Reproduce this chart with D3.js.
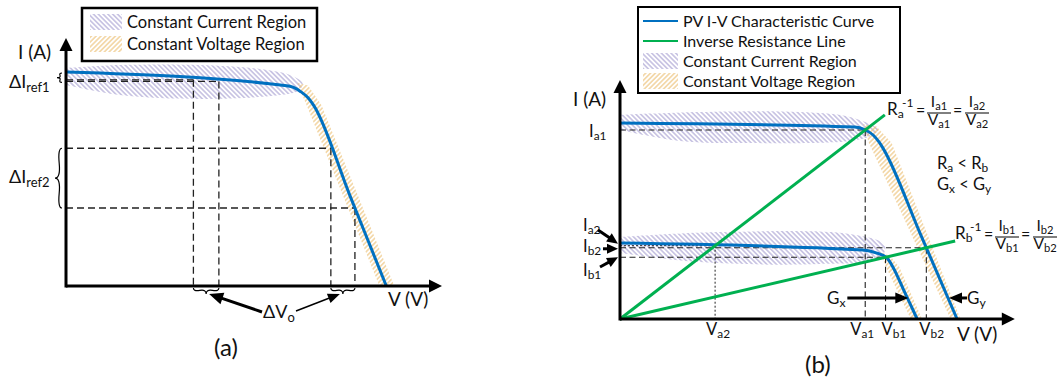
<!DOCTYPE html>
<html>
<head>
<meta charset="utf-8">
<script src="https://cdn.jsdelivr.net/npm/d3@7"></script>
<style>
body { margin: 0; background: #fff; }
text { font-family: Lato, "Liberation Sans", sans-serif; fill: #111; }
</style>
</head>
<body>
<svg id="chart"></svg>
<script>
// ---- panel (a): I-V curve, values in % of axis length ----
var curveAV = [0, 60, 62.5, 64.5, 66.5, 68, 78, 88];
var curveAI = [87, 81.5, 80.7, 79, 76.5, 73.5, 36.75, 0];
var ccMarkV = [35, 42];          // constant current region references
var cvMarkI = [56, 31.7];        // constant voltage region references
var ccBandAV = [0, 14.8, 36.8, 53.3, 61.5, 65, 64, 56, 36.8, 14.8, 0];
var ccBandAI = [88.6, 89.8, 89.8, 88.2, 85.8, 82.5, 79.5, 77.2, 76, 77.6, 81.7];
var cvBandAV = [63.5, 66.5, 70.2, 90.2, 86.1, 66.1];
var cvBandAI = [82.5, 81.5, 73.5, 0, 0, 73.5];

// ---- panel (b): two irradiance curves + two resistance lines ----
var upperV = [0, 61.8, 64.5, 66.6, 68.2, 69.2, 79, 88.7];
var upperI = [82, 80.3, 79.1, 77, 74, 71.5, 35.75, 0];
var lowerV = [0, 63.9, 67.6, 70.3, 71.8, 75, 78.2];
var lowerI = [31.8, 28.9, 27.6, 25.5, 21.8, 10.9, 0];
var greenEndV = [69.7, 88.2];    // Ra line, Rb line
var greenEndI = [85.4, 32.6];
var gArrowI = 8.8;
var ccBandUpV = [0, 21, 47.4, 60.5, 68, 65.8, 60.5, 34.2, 15.8, 0];
var ccBandUpI = [85.4, 86.6, 86.6, 84.5, 79, 76.5, 74.5, 73.6, 74.5, 79.1];
var ccBandLoV = [0, 26.3, 60.5, 69.7, 68.4, 52.6, 21, 0];
var ccBandLoI = [34.3, 36.4, 35.6, 31, 25.5, 23, 23.8, 27.6];
var cvBandUpV = [64, 67.5, 71.5, 89.6, 87, 65.5];
var cvBandUpI = [81.5, 80.5, 73.6, 0, 0, 73.6];
var cvBandLoV = [68.5, 71, 73.5, 79.5, 76.5, 70];
var cvBandLoI = [28, 26.5, 21.8, 0, 0, 21.8];

var legendA = ["Constant Current Region", "Constant Voltage Region"];
var legendB = ["PV I-V Characteristic Curve", "Inverse Resistance Line", "Constant Current Region", "Constant Voltage Region"];

var BLUE = "#0070c0", GREEN = "#00b050";

var svg = d3.select("#chart").attr("width", 1057).attr("height", 382);
svg.append("rect").attr("width", 1057).attr("height", 382).attr("fill", "#fff");
var defs = svg.append("defs");

function hatch(id, color, angle) {
    var p = defs.append("pattern").attr("id", id)
        .attr("patternUnits", "userSpaceOnUse")
        .attr("width", 3.4).attr("height", 3.4)
        .attr("patternTransform", "rotate(" + angle + ")");
    p.append("line").attr("x1", 1.7).attr("y1", 0).attr("x2", 1.7).attr("y2", 3.4)
        .attr("stroke", color).attr("stroke-width", 1.1);
}
hatch("ccHatch", "#aba4d4", -45);
hatch("cvHatch", "#ecc27a", 45);

function pts(vs, is) { return vs.map(function (v, k) { return [v, is[k]]; }); }

function iAtV(vs, is, v) {
    for (var k = 0; k < vs.length - 1; k++) {
        if (v >= vs[k] && v <= vs[k + 1]) {
            var t = (v - vs[k]) / (vs[k + 1] - vs[k]);
            return is[k] + t * (is[k + 1] - is[k]);
        }
    }
}
function vAtI(vs, is, i) {
    for (var k = vs.length - 2; k >= 0; k--) {
        if (i <= is[k] && i >= is[k + 1]) {
            var t = (is[k] - i) / (is[k] - is[k + 1]);
            return vs[k] + t * (vs[k + 1] - vs[k]);
        }
    }
}
function crossLine(vs, is, slope) {
    for (var k = 0; k < vs.length - 1; k++) {
        var f0 = is[k] - slope * vs[k], f1 = is[k + 1] - slope * vs[k + 1];
        if (f0 >= 0 && f1 <= 0) {
            var t = f0 / (f0 - f1);
            var v = vs[k] + t * (vs[k + 1] - vs[k]);
            return [v, slope * v];
        }
    }
}

function makeBrace(x1, y1, x2, y2, w, q) {
    var dx = x1 - x2, dy = y1 - y2;
    var len = Math.sqrt(dx * dx + dy * dy);
    dx = dx / len; dy = dy / len;
    var qx1 = x1 + q * w * dy, qy1 = y1 - q * w * dx;
    var qx2 = (x1 - .25 * len * dx) + (1 - q) * w * dy, qy2 = (y1 - .25 * len * dy) - (1 - q) * w * dx;
    var tx1 = (x1 - .5 * len * dx) + w * dy, ty1 = (y1 - .5 * len * dy) - w * dx;
    var qx3 = x2 + q * w * dy, qy3 = y2 - q * w * dx;
    var qx4 = (x1 - .75 * len * dx) + (1 - q) * w * dy, qy4 = (y1 - .75 * len * dy) - (1 - q) * w * dx;
    return "M" + x1 + "," + y1 + "Q" + qx1 + "," + qy1 + " " + qx2 + "," + qy2 + "T" + tx1 + "," + ty1 +
        "M" + x2 + "," + y2 + "Q" + qx3 + "," + qy3 + " " + qx4 + "," + qy4 + "T" + tx1 + "," + ty1;
}

function arrow(g, x1, y1, x2, y2, sw, len, wid) {
    var dx = x2 - x1, dy = y2 - y1, d = Math.sqrt(dx * dx + dy * dy);
    var ux = dx / d, uy = dy / d;
    g.append("line").attr("x1", x1).attr("y1", y1)
        .attr("x2", x2 - ux * len * 0.7).attr("y2", y2 - uy * len * 0.7)
        .attr("stroke", "#000").attr("stroke-width", sw);
    var bx = x2 - ux * len, by = y2 - uy * len;
    g.append("path")
        .attr("d", "M" + x2 + "," + y2 + "L" + (bx - uy * wid / 2) + "," + (by + ux * wid / 2) +
            "L" + (bx + uy * wid / 2) + "," + (by - ux * wid / 2) + "Z")
        .attr("fill", "#000");
}

// text with sub/superscript parts: [["I"], ["a1", "sub"]]
function label(g, x, y, parts, size, anchor) {
    var t = g.append("text").attr("x", x).attr("y", y).attr("font-size", size)
        .attr("text-anchor", anchor || "start");
    var shift = 0;
    parts.forEach(function (p) {
        var target = p[1] === "sub" ? size * 0.2 : p[1] === "sup" ? -size * 0.42 : 0;
        t.append("tspan").attr("dy", target - shift)
            .attr("font-size", p[1] ? size * 0.72 : size).text(p[0]);
        shift = target;
    });
    return t;
}

function dashed(g, x1, y1, x2, y2, dash, sw) {
    g.append("line").attr("x1", x1).attr("y1", y1).attr("x2", x2).attr("y2", y2)
        .attr("stroke", "#222").attr("stroke-width", sw).attr("stroke-dasharray", dash);
}

function axes(g, x, y, xTip, yTip) {
    var ox = x(0), oy = y(0);
    g.append("line").attr("x1", ox).attr("y1", oy).attr("x2", x(xTip) - 8).attr("y2", oy)
        .attr("stroke", "#000").attr("stroke-width", 3);
    g.append("line").attr("x1", ox).attr("y1", oy + 1.5).attr("x2", ox).attr("y2", y(yTip) + 8)
        .attr("stroke", "#000").attr("stroke-width", 3);
    g.append("path").attr("d", "M" + x(xTip) + "," + oy + "l-13,-6.5v13Z").attr("fill", "#000");
    g.append("path").attr("d", "M" + ox + "," + y(yTip) + "l-6.5,13h13Z").attr("fill", "#000");
}

function band(g, x, y, vs, is, fill, smooth) {
    var line = d3.line().x(function (d) { return x(d[0]); }).y(function (d) { return y(d[1]); })
        .curve(smooth ? d3.curveCatmullRom : d3.curveLinear);
    g.append("path").attr("d", line(pts(vs, is)) + "Z").attr("fill", "url(#" + fill + ")");
}

function ivCurve(g, x, y, vs, is) {
    var line = d3.line().x(function (d) { return x(d[0]); }).y(function (d) { return y(d[1]); })
        .curve(d3.curveMonotoneX);
    g.append("path").attr("d", line(pts(vs, is))).attr("fill", "none")
        .attr("stroke", BLUE).attr("stroke-width", 3);
}

// =================== panel (a) ===================
var xa = d3.scaleLinear().domain([0, 100]).range([66, 430]);
var ya = d3.scaleLinear().domain([0, 100]).range([286, 40]);
var ga = svg.append("g");

band(ga, xa, ya, ccBandAV, ccBandAI, "ccHatch", true);
band(ga, xa, ya, cvBandAV, cvBandAI, "cvHatch", false);

ccMarkV.forEach(function (v) {
    var i = iAtV(curveAV, curveAI, v);
    dashed(ga, xa(0), ya(i), xa(v), ya(i), "7,4", 1.3);
    dashed(ga, xa(v), ya(i), xa(v), ya(0), "7,4", 1.3);
});
cvMarkI.forEach(function (i) {
    var v = vAtI(curveAV, curveAI, i);
    dashed(ga, xa(0), ya(i), xa(v), ya(i), "7,4", 1.3);
    dashed(ga, xa(v), ya(i), xa(v), ya(0), "7,4", 1.3);
});

ivCurve(ga, xa, ya, curveAV, curveAI);
axes(ga, xa, ya, 103.3, 100.8);

var braceStyle = function (p) { p.attr("fill", "none").attr("stroke", "#000").attr("stroke-width", 1.2); };
var bx = xa(0) - 4;
ga.append("path").attr("d", makeBrace(bx, ya(curveAI[0]) + 1, bx, ya(iAtV(curveAV, curveAI, ccMarkV[1])) + 1, 5, 0.6)).call(braceStyle);
ga.append("path").attr("d", makeBrace(bx, ya(cvMarkI[0]), bx, ya(cvMarkI[1]), 7, 0.6)).call(braceStyle);
var byy = ya(0) + 2;
var cvV = cvMarkI.map(function (i) { return vAtI(curveAV, curveAI, i); });
ga.append("path").attr("d", makeBrace(xa(ccMarkV[0]), byy, xa(ccMarkV[1]), byy, 6, 0.6)).call(braceStyle);
ga.append("path").attr("d", makeBrace(xa(cvV[0]), byy, xa(cvV[1]), byy, 6, 0.6)).call(braceStyle);

var tipL = (xa(ccMarkV[0]) + xa(ccMarkV[1])) / 2, tipR = (xa(cvV[0]) + xa(cvV[1])) / 2;
arrow(ga, 262, 312, tipL + 3, byy + 6, 3, 14, 12);
arrow(ga, 296, 311, tipR - 3, byy + 6, 1.5, 12, 10);

label(ga, 18, 59, [["I (A)"]], 19);
label(ga, 9, 88, [["ΔI"], ["ref1", "sub"]], 18);
label(ga, 9, 183, [["ΔI"], ["ref2", "sub"]], 18);
label(ga, 263, 318, [["ΔV"], ["o", "sub"]], 18);
label(ga, 388, 306, [["V (V)"]], 19);
label(ga, 214, 356, [["(a)"]], 24);

ga.append("rect").attr("x", 82).attr("y", 8).attr("width", 235).attr("height", 53)
    .attr("fill", "#fff").attr("stroke", "#000").attr("stroke-width", 2.5);
legendA.forEach(function (s, k) {
    ga.append("rect").attr("x", 90).attr("y", 14 + k * 22).attr("width", 32).attr("height", 16)
        .attr("fill", k === 0 ? "url(#ccHatch)" : "url(#cvHatch)");
    ga.append("text").attr("x", 127).attr("y", 28 + k * 22).attr("font-size", 16.5).text(s);
});

// =================== panel (b) ===================
var xb = d3.scaleLinear().domain([0, 100]).range([620, 1000]);
var yb = d3.scaleLinear().domain([0, 100]).range([319, 80]);
var gb = svg.append("g");

band(gb, xb, yb, ccBandUpV, ccBandUpI, "ccHatch", true);
band(gb, xb, yb, ccBandLoV, ccBandLoI, "ccHatch", true);
band(gb, xb, yb, cvBandUpV, cvBandUpI, "cvHatch", false);
band(gb, xb, yb, cvBandLoV, cvBandLoI, "cvHatch", false);

var slopes = greenEndV.map(function (v, k) { return greenEndI[k] / v; });
var opA1 = crossLine(upperV, upperI, slopes[0]);
var opA2 = crossLine(lowerV, lowerI, slopes[0]);
var opB1 = crossLine(lowerV, lowerI, slopes[1]);
var opB2 = crossLine(upperV, upperI, slopes[1]);

[opA1, opB1, opB2].forEach(function (p) {
    dashed(gb, xb(0), yb(p[1]), xb(p[0]), yb(p[1]), "6,3.5", 1.1);
    dashed(gb, xb(p[0]), yb(p[1]), xb(p[0]), yb(0), "6,3.5", 1.1);
});
dashed(gb, xb(0), yb(opA2[1]), xb(opA2[0]), yb(opA2[1]), "2,2", 1);
dashed(gb, xb(opA2[0]), yb(opA2[1]), xb(opA2[0]), yb(0), "2,2", 1);

ivCurve(gb, xb, yb, upperV, upperI);
ivCurve(gb, xb, yb, lowerV, lowerI);
greenEndV.forEach(function (v, k) {
    gb.append("line").attr("x1", xb(0)).attr("y1", yb(0)).attr("x2", xb(v)).attr("y2", yb(greenEndI[k]))
        .attr("stroke", GREEN).attr("stroke-width", 3);
});
axes(gb, xb, yb, 103.9, 100);

// current labels with arrows to the I axis
label(gb, 589, 137, [["I"], ["a1", "sub"]], 16.5);
label(gb, 583, 231, [["I"], ["a2", "sub"]], 16.5);
label(gb, 583, 252, [["I"], ["b2", "sub"]], 16.5);
label(gb, 583, 276, [["I"], ["b1", "sub"]], 16.5);
arrow(gb, 598, 230, xb(0) - 2, yb(opA2[1]) - 2, 3, 11, 10);
arrow(gb, 603, yb(opB2[1]) + 1, xb(0) - 2, yb(opB2[1]) + 1, 3, 11, 10);
arrow(gb, 600, 267, xb(0) - 2, yb(opB1[1]), 3, 11, 10);

// voltage labels under the axis
[[opA2, "a2", -9], [opA1, "a1", -15], [opB1, "b1", -4], [opB2, "b2", -7]].forEach(function (d) {
    label(gb, xb(d[0][0]) + d[2], 335, [["V"], [d[1], "sub"]], 16.5);
});

// Gx / Gy arrows onto the curves
var gxV = vAtI(lowerV, lowerI, gArrowI), gyV = vAtI(upperV, upperI, gArrowI);
arrow(gb, xb(gxV) - 60, yb(gArrowI), xb(gxV) + 1, yb(gArrowI), 3, 13, 11);
arrow(gb, xb(gyV) + 19, yb(gArrowI), xb(gyV) + 1, yb(gArrowI), 3, 13, 11);
label(gb, 827, 304, [["G"], ["x", "sub"]], 17);
label(gb, 967, 304, [["G"], ["y", "sub"]], 17);

label(gb, 937, 169, [["R"], ["a", "sub"], [" < R"], ["b", "sub"]], 16.5);
label(gb, 937, 190, [["G"], ["x", "sub"], [" < G"], ["y", "sub"]], 16.5);

function frac(g, x, yBar, w, num, den) {
    g.append("line").attr("x1", x).attr("y1", yBar).attr("x2", x + w).attr("y2", yBar)
        .attr("stroke", "#000").attr("stroke-width", 1);
    label(g, x + w / 2, yBar - 6, num, 15.5, "middle");
    label(g, x + w / 2, yBar + 12, den, 15.5, "middle");
}
function formula(g, x, yBar, s1, s2) {
    label(g, x, yBar + 2, [["R"], [s1[0], "sub"]], 17);
    label(g, x + 15, yBar - 6, [["-1"]], 12);
    label(g, x + 29, yBar + 3, [["="]], 16);
    frac(g, x + 40, yBar, 24, [["I"], [s1, "sub"]], [["V"], [s1, "sub"]]);
    label(g, x + 66, yBar + 3, [["="]], 16);
    frac(g, x + 78, yBar, 24, [["I"], [s2, "sub"]], [["V"], [s2, "sub"]]);
}
formula(gb, 887, 113, "a1", "a2");
formula(gb, 955, 237, "b1", "b2");

label(gb, 573, 106, [["I (A)"]], 19);
label(gb, 957, 341, [["V (V)"]], 19);
label(gb, 805, 373, [["(b)"]], 24);

gb.append("rect").attr("x", 638).attr("y", 7).attr("width", 262).attr("height", 86)
    .attr("fill", "#fff").attr("stroke", "#000").attr("stroke-width", 2);
legendB.forEach(function (s, k) {
    var cy = 21 + k * 20;
    if (k < 2) {
        gb.append("line").attr("x1", 643).attr("y1", cy).attr("x2", 678).attr("y2", cy)
            .attr("stroke", k === 0 ? BLUE : GREEN).attr("stroke-width", 2);
    } else {
        gb.append("rect").attr("x", 643).attr("y", cy - 8).attr("width", 35).attr("height", 16)
            .attr("fill", k === 2 ? "url(#ccHatch)" : "url(#cvHatch)");
    }
    gb.append("text").attr("x", 683).attr("y", cy + 6).attr("font-size", 16).text(s);
});
</script>
</body>
</html>
